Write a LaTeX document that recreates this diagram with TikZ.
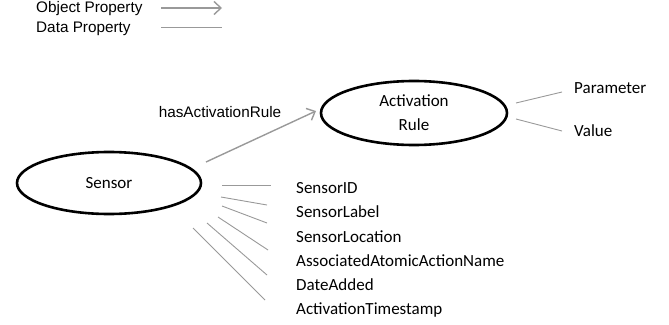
\documentclass[tikz,border=0pt]{standalone}
\usepackage{fontspec}
\setmainfont{Carlito}
\newfontfamily\arialf{Liberation Sans}
\usetikzlibrary{arrows.meta,shapes.geometric}
\begin{document}
\begin{tikzpicture}[x=1pt,y=-1pt,
  cls/.style={ellipse,draw=black,line width=2.6pt,inner sep=0pt},
  lbl/.style={font=\fontsize{17}{20}\selectfont,anchor=west,inner sep=0pt},
  legtxt/.style={font=\arialf\fontsize{15.3}{18}\selectfont,anchor=west,inner sep=0pt},
  objprop/.style={draw=black!40,line width=1.4pt,-{Straight Barb[length=7pt,width=13pt]}},
  dataprop/.style={draw=black!40,line width=0.9pt}]
\useasboundingbox (0,0) rectangle (669,324);
% legend
\node[legtxt] (lo) at (36,9) {Object Property};
\node[legtxt] (ld) at (36,29) {Data Property};
\coordinate (lo1) at (161,8); \coordinate (lo2) at (222,8);
\coordinate (ld1) at (161,27); \coordinate (ld2) at (222,27);
\draw[objprop] (lo1) -- (lo2);
\draw[dataprop] (ld1) -- (ld2);
% classes
\node[cls,minimum width=184pt,minimum height=62pt,font=\fontsize{17}{20}\selectfont] (sensor) at (109,183) {Sensor};
\node[cls,minimum width=186pt,minimum height=64pt,align=center,font=\fontsize{17}{24}\selectfont] (rule) at (414,113) {Activation\\Rule};
% object property
\coordinate (a1) at (206,162); \coordinate (a2) at (316,111);
\draw[objprop] (a1) -- (a2);
\node[legtxt,anchor=center] (hr) at (220,112) {hasActivationRule};
% rule data properties
\node[lbl] (par) at (574,88) {Parameter};
\node[lbl] (val) at (574,131) {Value};
\coordinate (p1) at (516,103); \coordinate (p2) at (562,92);
\coordinate (v1) at (516,119); \coordinate (v2) at (562,131);
\draw[dataprop] (p1) -- (p2);
\draw[dataprop] (v1) -- (v2);
% sensor data properties
\node[lbl] (s1) at (296,188) {SensorID};
\node[lbl] (s2) at (296,212) {SensorLabel};
\node[lbl] (s3) at (296,237) {SensorLocation};
\node[lbl] (s4) at (296,261) {AssociatedAtomicActionName};
\node[lbl] (s5) at (296,285) {DateAdded};
\node[lbl] (s6) at (296,310) {ActivationTimestamp};
\coordinate (b1) at (222,185); \coordinate (e1) at (271,185);
\coordinate (b2) at (221,197); \coordinate (e2) at (267,205);
\coordinate (b3) at (222,206); \coordinate (e3) at (267,223);
\coordinate (b4) at (218,217); \coordinate (e4) at (268,250);
\coordinate (b5) at (207,223); \coordinate (e5) at (267,275);
\coordinate (b6) at (193,228); \coordinate (e6) at (265,300);
\foreach \i in {1,...,6} {\draw[dataprop] (b\i) -- (e\i);}
\end{tikzpicture}
\end{document}
